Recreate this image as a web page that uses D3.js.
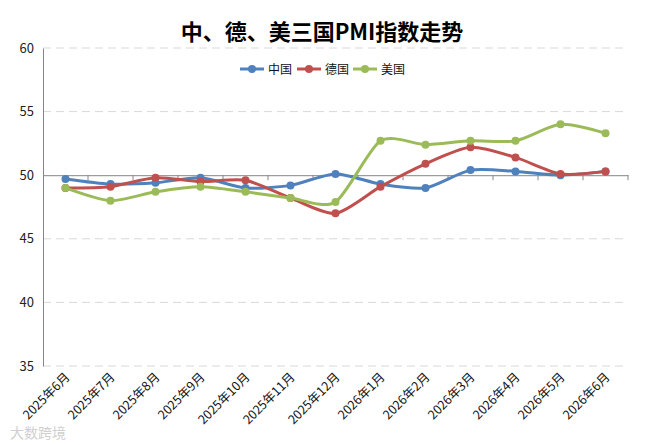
<!DOCTYPE html>
<html><head><meta charset="utf-8">
<script src="https://cdn.jsdelivr.net/npm/d3@7"></script>
<style>body{margin:0;background:#fff}svg{display:block}</style>
</head><body>
<svg id="c" width="650" height="445"></svg>
<script>
const categories = ["2025年6月","2025年7月","2025年8月","2025年9月","2025年10月","2025年11月","2025年12月","2026年1月","2026年2月","2026年3月","2026年4月","2026年5月","2026年6月"];
const china   = [49.7,49.3,49.4,49.8,49.0,49.2,50.1,49.3,49.0,50.4,50.3,50.0,50.3];
const germany = [49.0,49.1,49.8,49.5,49.6,48.2,47.0,49.1,50.9,52.2,51.4,50.1,50.3];
const usa     = [49.0,48.0,48.7,49.1,48.7,48.2,47.9,52.7,52.4,52.7,52.7,54.0,53.3];
const seriesNames = ["中国","德国","美国"];
const yTicks = [35,40,45,50,55,60];

const colors = ["#4F81BD","#C0504D","#9BBB59"];
const series = [china, germany, usa].map((v,i)=>({name:seriesNames[i], values:v, color:colors[i]}));

const svg = d3.select("#c");
const L = 43, R = 628, T = 48, B = 366;
const font = "'Noto Sans CJK SC','Noto Sans',sans-serif";

const x = d3.scaleBand().domain(categories).range([L,R]);
const y = d3.scaleLinear().domain([35,60]).range([B,T]);
const cx = d => x(d) + x.bandwidth()/2;

// gridlines
svg.append("g").selectAll("line").data(yTicks.filter(t=>t!==50)).join("line")
  .attr("x1",L).attr("x2",R).attr("y1",d=>y(d)).attr("y2",d=>y(d))
  .attr("stroke","#d9d9d9").attr("stroke-width",1).attr("stroke-dasharray","8,5");

// y axis
const yAxis = svg.append("g").attr("transform",`translate(${L},0)`)
  .call(d3.axisLeft(y).tickValues(yTicks).tickSize(0).tickPadding(9));
yAxis.select(".domain").attr("stroke","#868686");
yAxis.selectAll("text").attr("font-family",font).attr("font-size",13).attr("fill","#222");

// x axis at 50
const xAxis = svg.append("g").attr("transform",`translate(0,${y(50)})`)
  .call(d3.axisBottom(x).tickSize(0).tickFormat(""));
xAxis.select(".domain").attr("stroke","#868686");
svg.append("g").selectAll("line").data(d3.range(1,categories.length+1)).join("line")
  .attr("x1",i=>L+i*x.bandwidth()).attr("x2",i=>L+i*x.bandwidth())
  .attr("y1",y(50)).attr("y2",y(50)+5).attr("stroke","#868686");

// x labels
svg.append("g").selectAll("text").data(categories).join("text")
  .attr("transform",d=>`translate(${cx(d)+5},${B+12}) rotate(-45)`)
  .attr("text-anchor","end").attr("font-family",font).attr("font-size",12.5).attr("fill","#111")
  .text(d=>d);

// lines
const line = d3.line().x((d,i)=>cx(categories[i])).y(d=>y(d)).curve(d3.curveCardinal.tension(0.25));
const g = svg.append("g");
series.forEach(s=>{
  g.append("path").datum(s.values).attr("d",line).attr("fill","none")
    .attr("stroke",s.color).attr("stroke-width",3).attr("stroke-linejoin","round");
  g.append("g").selectAll("circle").data(s.values).join("circle")
    .attr("cx",(d,i)=>cx(categories[i])).attr("cy",d=>y(d)).attr("r",4).attr("fill",s.color);
});

// title
svg.append("text").attr("x",322).attr("y",40).attr("text-anchor","middle")
  .attr("font-family",font).attr("font-weight","bold").attr("font-size",22).attr("fill","#000")
  .text("中、德、美三国PMI指数走势");

// legend
const lg = svg.append("g");
const lx = [240,297,353];
series.forEach((s,i)=>{
  lg.append("line").attr("x1",lx[i]).attr("x2",lx[i]+24).attr("y1",69).attr("y2",69)
    .attr("stroke",s.color).attr("stroke-width",3);
  lg.append("circle").attr("cx",lx[i]+12).attr("cy",69).attr("r",4).attr("fill",s.color);
  lg.append("text").attr("x",lx[i]+28).attr("y",73.5).attr("font-family",font).attr("font-size",12)
    .attr("fill","#111").text(s.name);
});

// watermark
svg.append("text").attr("x",10).attr("y",438).attr("font-family",font).attr("font-size",14)
  .attr("fill","#d0d0d0").text("大数跨境");
</script>
</body></html>
